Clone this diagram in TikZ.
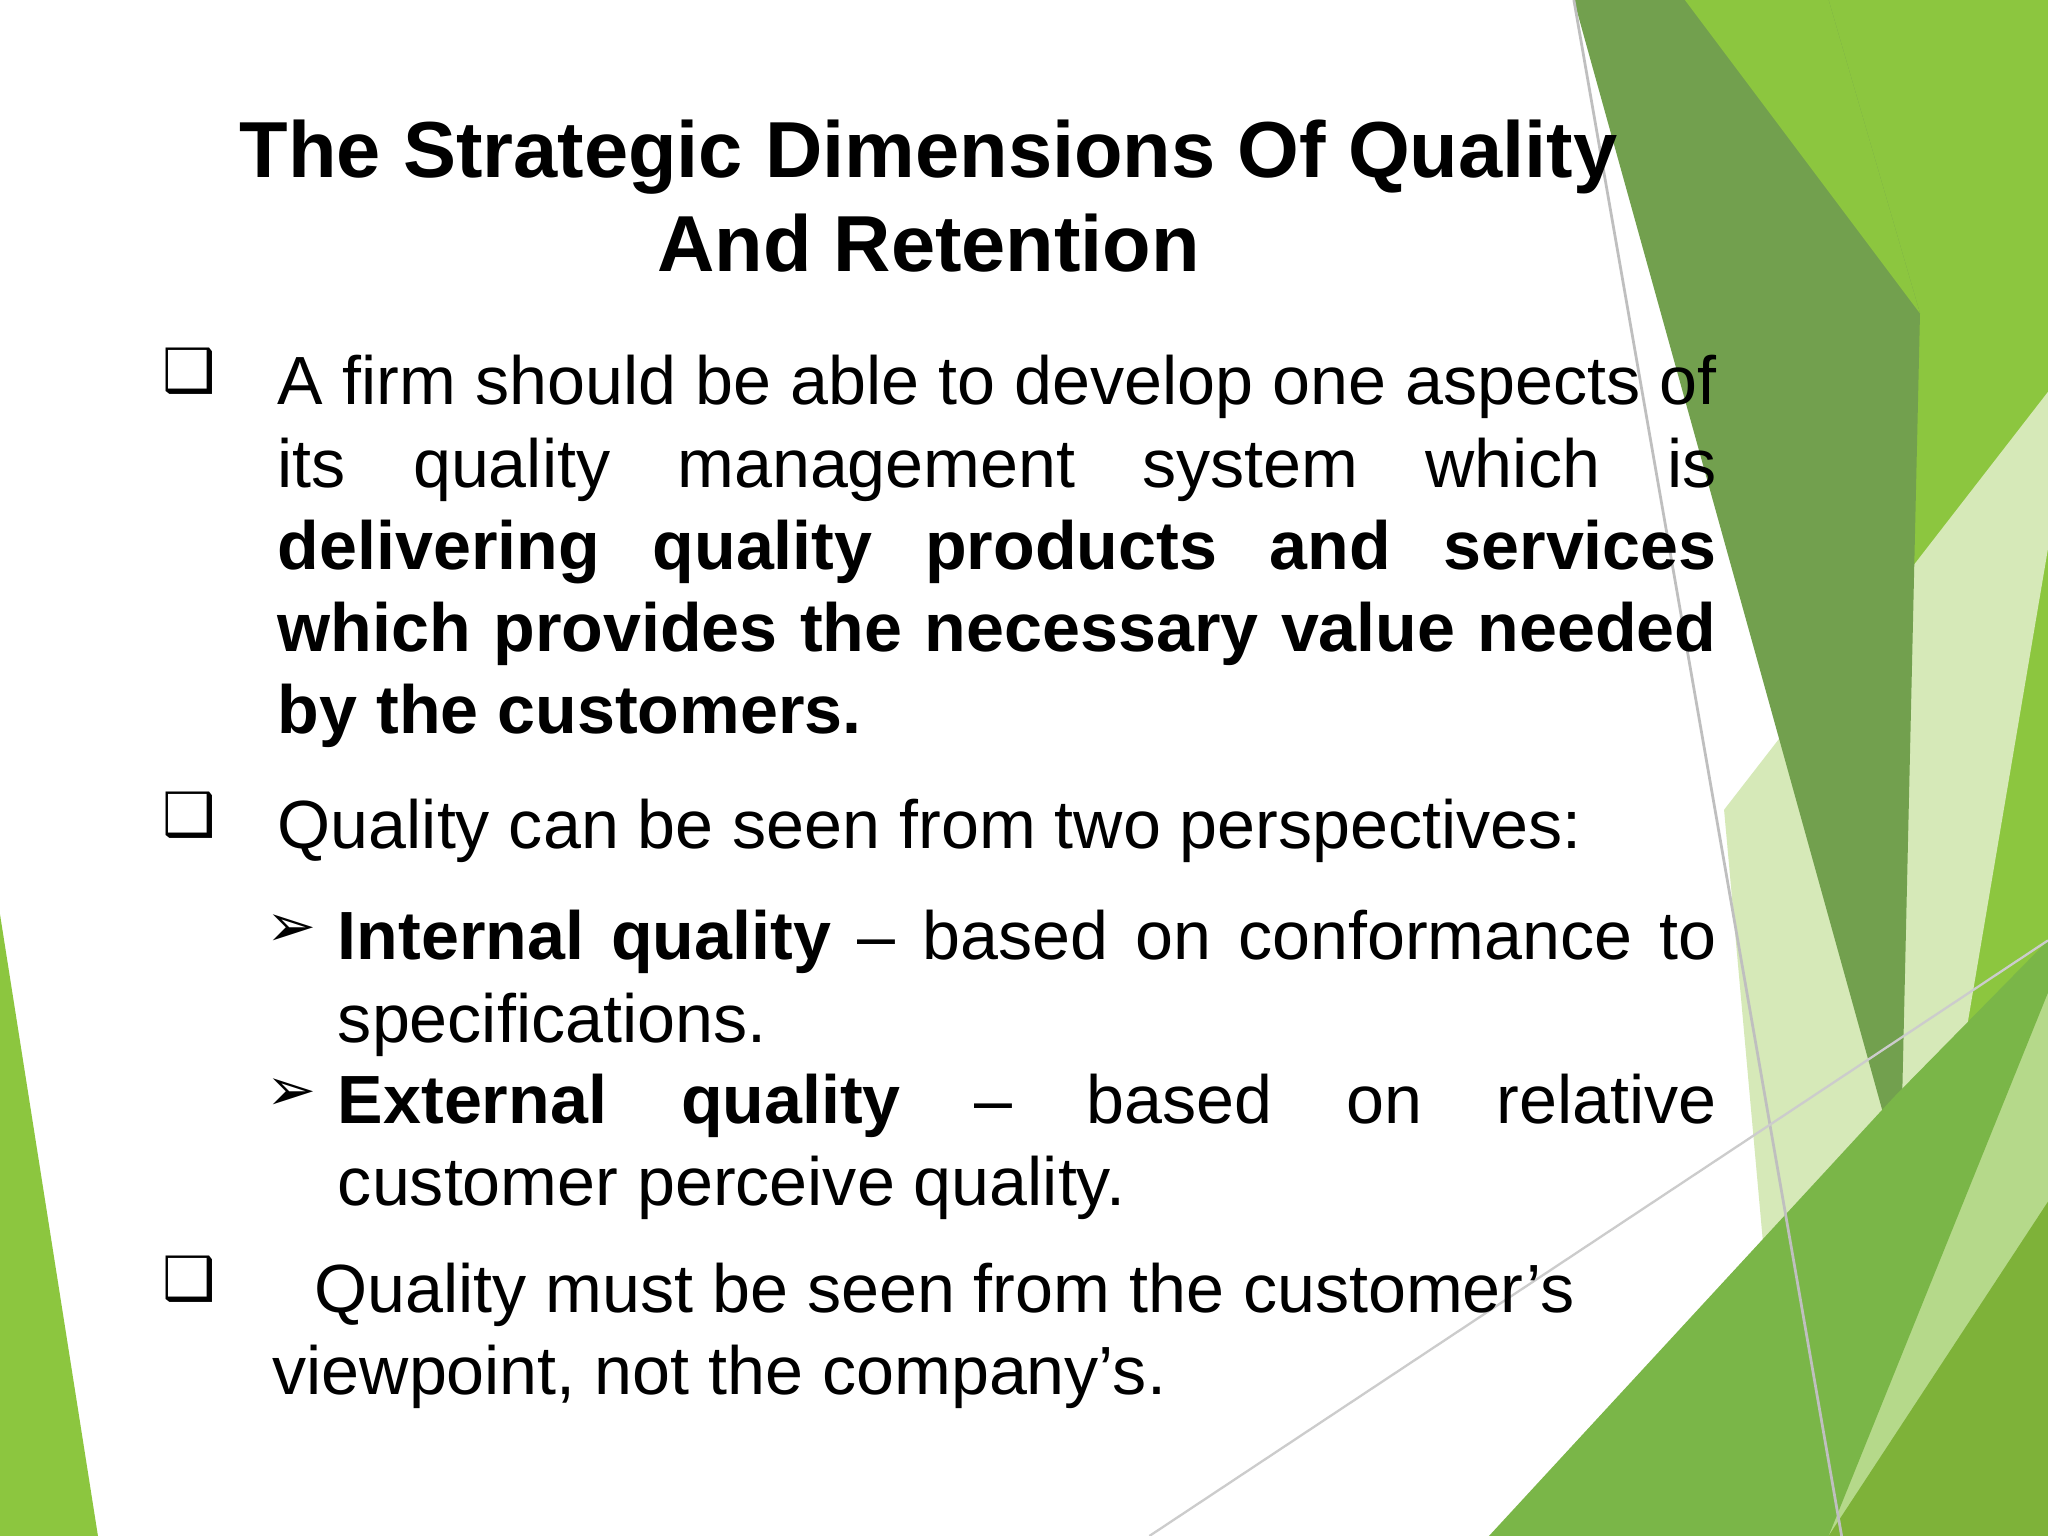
\documentclass[tikz,border=0pt]{standalone}
\usepackage{fontspec}
\setmainfont{Liberation Sans}
\newfontfamily\dejavu{DejaVu Sans}
\definecolor{dkg}{HTML}{72A04E}
\definecolor{brg}{HTML}{8CC63F}
\definecolor{plg}{HTML}{D6E9B8}
\definecolor{mdg}{HTML}{7AB648}
\definecolor{ltg}{HTML}{B5D98A}
\tikzset{bodytxt/.style={anchor=base west,inner sep=0,align=justify,font=\fontsize{14.85pt}{17.9pt}\selectfont},
 bulletmk/.style={anchor=base west,inner sep=0,font=\dejavu\fontsize{13pt}{16pt}\selectfont}}
\begin{document}
\begin{tikzpicture}[x=0.01cm,y=-0.01cm]
\useasboundingbox (0,0) rectangle (1568,1176);
\fill[white] (0,0) rectangle (1568,1176);
% right decoration
\fill[brg] (1380,0)--(1568,0)--(1568,1176)--(1390,1176)--cycle;
\fill[plg] (1320,620)--(1568,300)--(1568,420)--(1440,1176)--(1370,1176)--cycle;
\fill[ltg] (1200,1176)--(1568,720)--(1568,1176)--cycle;
\fill[dkg] (1205,0)--(1400,0)--(1470,240)--(1455,900)--cycle;
\fill[brg] (1290,0)--(1400,0)--(1470,240)--cycle;
\fill[mdg] (1140,1176)--(1450,840)--(1568,720)--(1568,760)--(1400,1176)--cycle;
\fill[brg!90!black] (1400,1176)--(1568,920)--(1568,1176)--cycle;
\draw[gray!50,line width=0.6pt] (1205,0)--(1410,1176);
\draw[gray!40,line width=0.5pt] (880,1176)--(1568,720);
% left decoration
\fill[brg] (0,700)--(75,1176)--(0,1176)--cycle;
% title
\node[inner sep=0,align=center,font=\fontsize{17.3pt}{20.5pt}\selectfont\bfseries] (title) at (711,150)
 {The Strategic Dimensions Of Quality\\And Retention};
% bullets
\node[bulletmk] (b1) at (124,300) {❑};
\node[bodytxt,text width=11.01cm] (t1) at (212,310) {A firm should be able to develop one aspects of\linebreak its quality management system which is\linebreak \textbf{delivering quality products and services\linebreak which provides the necessary value needed\linebreak by the customers.}};
\node[bulletmk] (b2) at (124,640) {❑};
\node[bodytxt] (t2) at (212,650) {Quality can be seen from two perspectives:};
\node[bulletmk] (s1) at (203,725) {➢};
\node[bodytxt,text width=10.55cm] (t3) at (258,735) {\textbf{Internal quality} -- based on conformance to\linebreak specifications.};
\node[bulletmk] (s2) at (203,850) {➢};
\node[bodytxt,text width=10.55cm] (t4) at (258,860) {\textbf{External quality} -- based on relative\linebreak customer perceive quality.};
\node[bulletmk] (b3) at (124,995) {❑};
\node[bodytxt] (t5) at (240,1005) {Quality must be seen from the customer’s};
\node[bodytxt] (t6) at (208,1068) {viewpoint, not the company’s.};
\end{tikzpicture}
\end{document}
